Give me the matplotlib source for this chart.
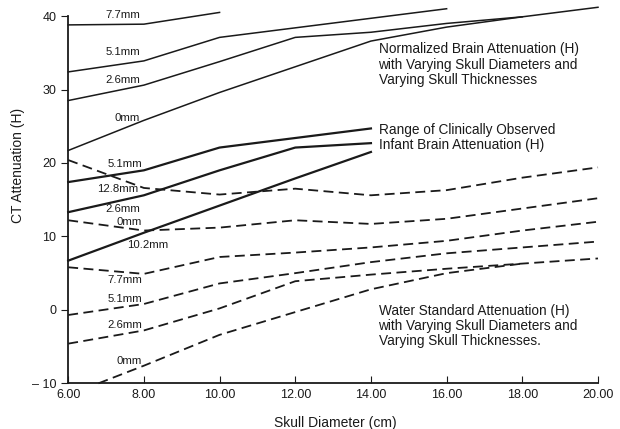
import matplotlib
matplotlib.use('Agg')
import matplotlib.pyplot as plt

# Normalized brain attenuation (solid lines), by skull thickness
brain_77_x = [6, 8, 10]
brain_77_y = [38.8, 38.9, 40.5]
brain_51_x = [6, 8, 10, 12, 14, 16]
brain_51_y = [32.4, 33.9, 37.1, 38.4, 39.7, 41.0]
brain_26_x = [6, 8, 10, 12, 14, 16, 18, 20]
brain_26_y = [28.5, 30.6, 33.8, 37.1, 37.8, 39.0, 39.9, 41.2]
brain_0_x = [6, 8, 10, 12, 14, 16, 18]
brain_0_y = [21.7, 25.8, 29.6, 33.1, 36.6, 38.5, 39.9]

# Clinically observed infant brain attenuation range
clin_51_x = [6, 8, 10, 12, 14]
clin_51_y = [17.4, 19.0, 22.1, 23.4, 24.7]
clin_26_x = [6, 8, 10, 12, 14]
clin_26_y = [13.3, 15.6, 19.0, 22.1, 22.7]
clin_0_x = [6, 8, 10, 12, 14]
clin_0_y = [6.7, 10.5, 14.2, 17.9, 21.5]

# Water standard attenuation (dashed lines)
water_x = [6, 8, 10, 12, 14, 16, 18, 20]
water_128 = [20.4, 16.6, 15.7, 16.5, 15.6, 16.3, 18.0, 19.4]
water_102 = [12.2, 10.8, 11.2, 12.2, 11.7, 12.4, 13.8, 15.2]
water_77 = [5.8, 4.9, 7.2, 7.8, 8.5, 9.4, 10.8, 12.0]
water_51 = [-0.7, 0.8, 3.6, 5.0, 6.5, 7.7, 8.5, 9.3]
water_26 = [-4.6, -2.8, 0.2, 3.9, 4.8, 5.6, 6.3, 7.0]
water_0_x = [6.8, 8, 10, 12, 14, 16, 18]
water_0 = [-10.0, -7.6, -3.4, -0.3, 2.8, 5.0, 6.3]

# line labels: (text, x, y)
line_labels = [
    ('7.7mm', 7.45, 40.1), ('5.1mm', 7.45, 35.1), ('2.6mm', 7.45, 31.3), ('0mm', 7.55, 26.1),
    ('5.1mm', 7.5, 19.9), ('12.8mm', 7.3, 16.5), ('2.6mm', 7.45, 13.7), ('0mm', 7.6, 12.0),
    ('10.2mm', 8.1, 8.8), ('7.7mm', 7.5, 4.0), ('5.1mm', 7.5, 1.5), ('2.6mm', 7.5, -2.0),
    ('0mm', 7.6, -6.9),
]

x_ticks = [6, 8, 10, 12, 14, 16, 18, 20]
y_ticks = [-10, 0, 10, 20, 30, 40]
y_ticklabels = ['\u2013 10', '0', '10', '20', '30', '40']

ink = '#1a1a1a'
plt.rcParams['font.family'] = ['Liberation Sans', 'DejaVu Sans']

fig = plt.figure(figsize=(6.2, 4.29), dpi=100)
ax = fig.add_axes([0.110, 0.1065, 0.8545, 0.856])

for xs, ys in [(brain_77_x, brain_77_y), (brain_51_x, brain_51_y),
               (brain_26_x, brain_26_y), (brain_0_x, brain_0_y)]:
    ax.plot(xs, ys, color=ink, lw=1.1, clip_on=False)

for xs, ys in [(clin_51_x, clin_51_y), (clin_26_x, clin_26_y), (clin_0_x, clin_0_y)]:
    ax.plot(xs, ys, color=ink, lw=1.6, clip_on=False)

dash = (0, (5.5, 3.0))
for ys in [water_128, water_102, water_77, water_51, water_26]:
    ax.plot(water_x, ys, color=ink, lw=1.3, linestyle=dash, clip_on=False)
ax.plot(water_0_x, water_0, color=ink, lw=1.3, linestyle=dash, clip_on=False)

for txt, x, y in line_labels:
    ax.text(x, y, txt, fontsize=8.2, color=ink, ha='center', va='center')

note_kw = dict(fontsize=9.8, color=ink, ha='left', va='center', linespacing=1.1)
ax.text(14.2, 33.4, 'Normalized Brain Attenuation (H)\nwith Varying Skull Diameters and\nVarying Skull Thicknesses', **note_kw)
ax.text(14.2, 23.5, 'Range of Clinically Observed\nInfant Brain Attenuation (H)', **note_kw)
ax.text(14.2, -2.2, 'Water Standard Attenuation (H)\nwith Varying Skull Diameters and\nVarying Skull Thicknesses.', **note_kw)

ax.set_xlim(6, 20)
ax.set_ylim(-10, 40)
ax.set_xticks(x_ticks)
ax.set_xticklabels(['%.2f' % v for v in x_ticks])
ax.set_yticks(y_ticks)
ax.set_yticklabels(y_ticklabels)
ax.tick_params(axis='x', direction='in', length=5, labelsize=9, colors=ink, pad=4)
ax.tick_params(axis='y', direction='out', length=5, labelsize=9, colors=ink)
for s in ['top', 'right']:
    ax.spines[s].set_visible(False)
for s in ['left', 'bottom']:
    ax.spines[s].set_linewidth(1.3)
    ax.spines[s].set_color(ink)

ax.set_xlabel('Skull Diameter (cm)', fontsize=10, color=ink)
ax.xaxis.set_label_coords(0.505, -0.09)
ax.set_ylabel('CT Attenuation (H)', fontsize=10, color=ink)
ax.yaxis.set_label_coords(-0.082, 0.594)

fig.savefig('out.png', dpi=100)
